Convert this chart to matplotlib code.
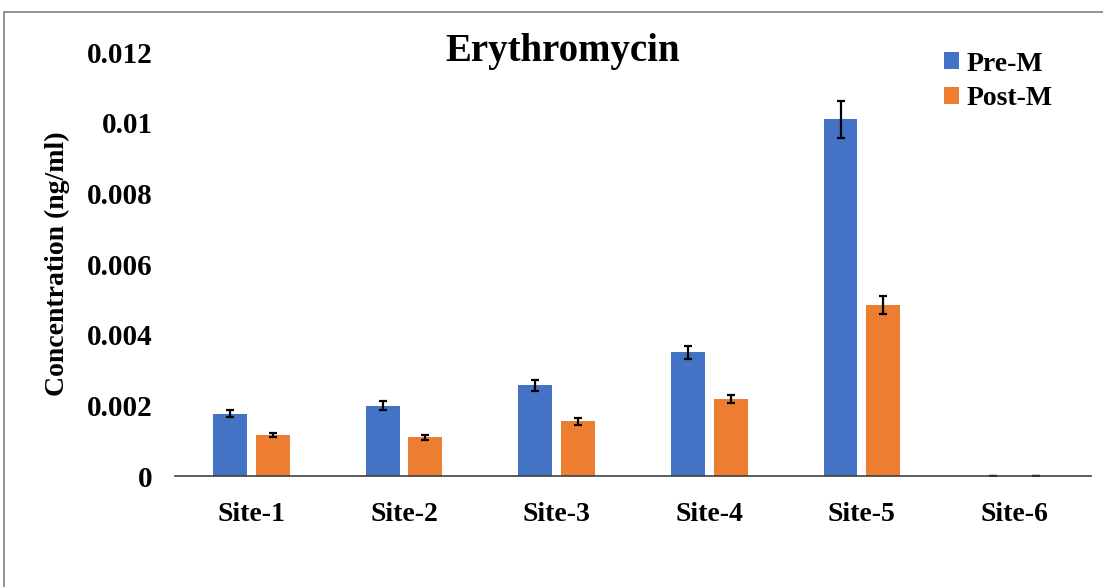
import numpy as np
import matplotlib
matplotlib.use('Agg')
import matplotlib.pyplot as plt
from matplotlib.patches import Rectangle

plt.rcParams['font.family'] = ['Liberation Serif', 'DejaVu Serif']
plt.rcParams['font.weight'] = 'bold'

sites = ['Site-1', 'Site-2', 'Site-3', 'Site-4', 'Site-5', 'Site-6']
pre = [0.00176, 0.00199, 0.00257, 0.0035, 0.0101, 0.0]
pre_err = [0.0001, 0.00012, 0.00015, 0.00019, 0.00052, 0.00001]
post = [0.00116, 0.0011, 0.00155, 0.00218, 0.00484, 0.0]
post_err = [0.00006, 0.00007, 0.0001, 0.00012, 0.00025, 0.00001]
yticks = [0, 0.002, 0.004, 0.006, 0.008, 0.01, 0.012]
ytick_labels = ['0', '0.002', '0.004', '0.006', '0.008', '0.01', '0.012']

fig = plt.figure(figsize=(11.03, 5.87), dpi=100)
ax = fig.add_axes([0.1587, 0.189, 0.8303, 0.7224])

x = np.arange(len(sites))
w = 0.222
off = 0.14
err_kw = dict(ecolor='black', elinewidth=1.6, capsize=3, capthick=1.6)
ax.bar(x - off, pre, w, yerr=pre_err, color='#4472C4', label='Pre-M', error_kw=err_kw)
ax.bar(x + off, post, w, yerr=post_err, color='#ED7D31', label='Post-M', error_kw=err_kw)

ax.set_xlim(-0.5, len(sites) - 0.5)
ax.set_ylim(0, 0.012)
ax.set_xticks(x)
ax.set_xticklabels(sites, fontsize=20, fontweight='bold')
ax.set_yticks(yticks)
ax.set_yticklabels(ytick_labels, fontsize=21, fontweight='bold')
ax.tick_params(axis='both', length=0)
ax.tick_params(axis='x', pad=19)
ax.tick_params(axis='y', pad=16)
for s in ['top', 'right', 'left']:
    ax.spines[s].set_visible(False)
ax.spines['bottom'].set_color('#404040')
ax.spines['bottom'].set_linewidth(1.2)

ax.set_ylabel('Concentration (ng/ml)', fontsize=20, fontweight='bold', labelpad=12)
fig.text(0.51, 0.912, 'Erythromycin', fontsize=28, fontweight='bold', ha='center', va='center')

leg = ax.legend(loc='upper right', bbox_to_anchor=(0.985, 1.06), fontsize=20, frameon=False,
                handlelength=0.55, handleheight=0.55, handletextpad=0.25, labelspacing=0.35)
for t in leg.get_texts():
    t.set_fontweight('bold')

fig.patches.append(Rectangle((0.0036, -0.1), 1.2, 1.0796, transform=fig.transFigure,
                             fill=False, edgecolor='#808080', linewidth=1.2))

fig.savefig('out.png', dpi=100)
